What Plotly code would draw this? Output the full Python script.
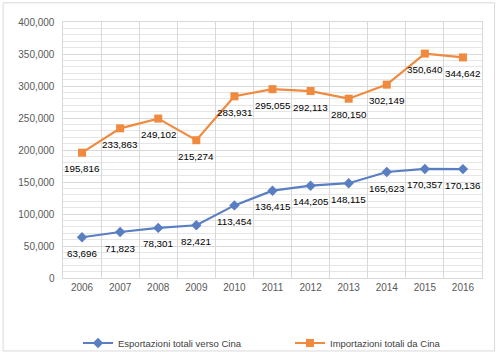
import plotly.graph_objects as go

years = ["2006", "2007", "2008", "2009", "2010", "2011", "2012", "2013", "2014", "2015", "2016"]
export_vals = [63696, 71823, 78301, 82421, 113454, 136415, 144205, 148115, 165623, 170357, 170136]
import_vals = [195816, 233863, 249102, 215274, 283931, 295055, 292113, 280150, 302149, 350640, 344642]
series_names = ["Esportazioni totali verso Cina", "Importazioni totali da Cina"]

blue = "#5A7EC2"
orange = "#EF8A3E"
font_family = "Liberation Sans, Arial, sans-serif"

fig = go.Figure()
fig.add_trace(go.Scatter(
    x=years, y=export_vals, name=series_names[0], mode="lines+markers",
    line=dict(color=blue, width=2.2),
    marker=dict(symbol="diamond", size=8, color=blue),
    legend="legend",
))
fig.add_trace(go.Scatter(
    x=years, y=import_vals, name=series_names[1], mode="lines+markers",
    line=dict(color=orange, width=2.2),
    marker=dict(symbol="square", size=8, color=orange),
    legend="legend2",
))

annotations = []
for vals in (export_vals, import_vals):
    for i, v in enumerate(vals):
        annotations.append(dict(x=i, y=v, xref="x", yref="y", text=f"{v:,}",
                                showarrow=False, yshift=-16,
                                font=dict(color="#000000", size=9.8, family=font_family)))

leg_common = dict(orientation="h", xref="container", yref="container", yanchor="middle",
                  font=dict(size=9.5, color="#404040"), itemwidth=30, bgcolor="rgba(0,0,0,0)")

fig.update_layout(
    width=497, height=352,
    margin=dict(l=63, r=15, t=22, b=74, autoexpand=False),
    paper_bgcolor="white", plot_bgcolor="white",
    font=dict(family=font_family, size=10, color="#595959"),
    showlegend=True,
    legend=dict(x=78 / 497, y=(352 - 343) / 352, **leg_common),
    legend2=dict(x=290 / 497, y=(352 - 343) / 352, **leg_common),
    annotations=annotations,
    xaxis=dict(type="category", categoryarray=years, tickson="boundaries", showgrid=True,
               gridcolor="#D9D9D9", range=[-0.5, len(years) - 0.5],
               gridwidth=1, showline=True, linecolor="#D9D9D9", mirror=True,
               ticks="", tickfont=dict(size=10, color="#595959")),
    yaxis=dict(range=[0, 400000], dtick=50000, tickformat=",", showgrid=True,
               gridcolor="#D9D9D9", gridwidth=1, zeroline=False,
               showline=True, linecolor="#D9D9D9", mirror=True,
               minor=dict(dtick=10000, showgrid=True, gridcolor="#E6E6E6", gridwidth=1),
               ticks="", tickfont=dict(size=10, color="#595959"), ticksuffix="  "),
    shapes=[dict(type="rect", xref="paper", yref="paper", x0=-0.143, x1=1.03, y0=-0.285, y1=1.075,
                 line=dict(color="#D9D9D9", width=1))],
)

fig.write_html("out.html")
